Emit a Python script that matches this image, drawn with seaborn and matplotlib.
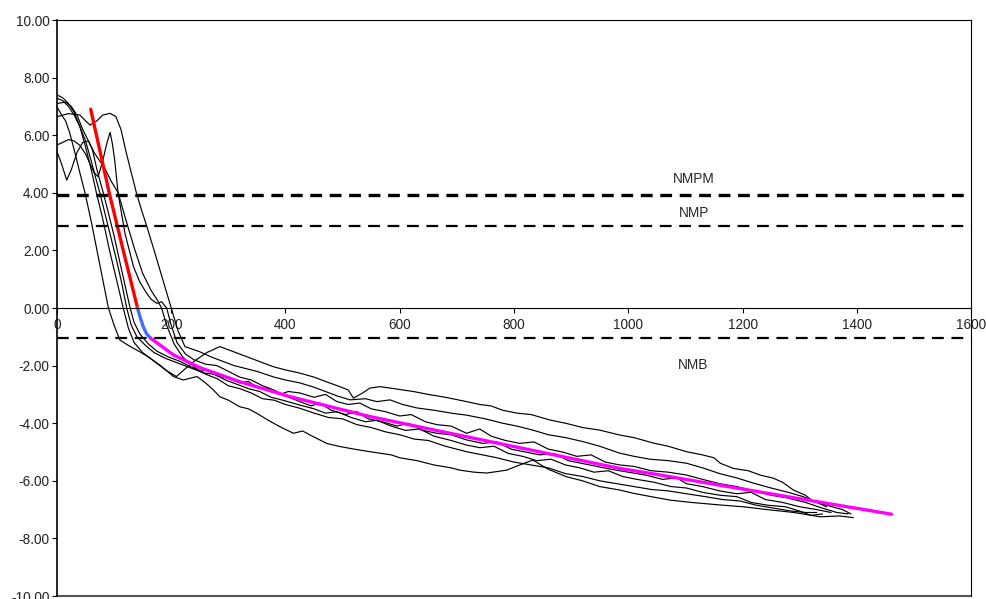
import numpy as np
import pandas as pd
import matplotlib
matplotlib.use("Agg")
import matplotlib.pyplot as plt
import seaborn as sns

# ---- measured profiles (distance, value) ----
run_a_x = [0, 8, 15, 22, 30, 40, 49, 60, 70, 80, 90, 100, 110, 125, 145, 160, 180, 204, 221, 245, 260, 274, 285, 300, 320, 335, 350, 370, 390, 414, 430, 449, 472, 495, 520, 548, 565, 585, 600, 630, 660, 690, 705, 730, 752, 770, 787, 810, 833, 860, 892, 920, 950, 985, 1008, 1040, 1073, 1110, 1161, 1200, 1248, 1290, 1336, 1370, 1394]
run_a_y = [6.99, 6.7, 6.5, 6.1, 5.5, 4.7, 4.0, 3.0, 2.0, 1.0, 0.0, -0.6, -1.11, -1.3, -1.52, -1.7, -1.98, -2.38, -2.5, -2.38, -2.6, -2.85, -3.08, -3.2, -3.43, -3.5, -3.66, -3.9, -4.12, -4.35, -4.27, -4.47, -4.7, -4.81, -4.9, -4.99, -5.04, -5.1, -5.2, -5.3, -5.45, -5.55, -5.63, -5.7, -5.73, -5.68, -5.63, -5.45, -5.28, -5.6, -5.86, -6.0, -6.2, -6.32, -6.43, -6.55, -6.67, -6.75, -6.84, -6.9, -7.01, -7.1, -7.25, -7.22, -7.28]

run_b_x = [0, 10, 20, 30, 40, 50, 60, 69, 80, 92, 104, 116, 125, 135, 150, 170, 190, 209, 225, 240, 262, 285, 300, 320, 340, 360, 379, 400, 425, 450, 470, 495, 510, 519, 535, 548, 565, 590, 624, 650, 680, 717, 740, 760, 780, 805, 830, 863, 890, 920, 950, 985, 1010, 1044, 1070, 1102, 1130, 1150, 1161, 1184, 1210, 1231, 1254, 1270, 1289, 1310, 1324, 1353, 1375, 1390]
run_b_y = [7.4, 7.3, 7.1, 6.8, 6.3, 5.6, 4.8, 4.0, 3.1, 2.0, 1.0, 0.0, -0.7, -1.2, -1.55, -1.85, -2.15, -2.38, -2.1, -1.85, -1.55, -1.34, -1.45, -1.6, -1.75, -1.9, -2.04, -2.15, -2.26, -2.4, -2.55, -2.73, -2.85, -3.13, -2.95, -2.78, -2.73, -2.8, -2.9, -3.0, -3.1, -3.25, -3.35, -3.4, -3.55, -3.65, -3.7, -3.89, -4.0, -4.15, -4.24, -4.41, -4.5, -4.69, -4.8, -4.99, -5.1, -5.2, -5.39, -5.57, -5.65, -5.8, -5.91, -6.05, -6.32, -6.5, -6.72, -6.88, -7.0, -7.15]

run_c_x = [0, 10, 20, 30, 40, 50, 60, 68, 75, 85, 95, 105, 114, 122, 130, 140, 155, 170, 190, 210, 230, 250, 265, 280, 300, 320, 335, 350, 370, 390, 405, 425, 450, 470, 490, 510, 530, 550, 575, 600, 620, 645, 665, 690, 717, 740, 760, 785, 810, 835, 860, 885, 910, 935, 960, 985, 1010, 1040, 1070, 1102, 1130, 1160, 1190, 1220, 1250, 1280, 1310, 1340, 1365, 1385]
run_c_y = [7.28, 7.2, 7.0, 6.7, 6.3, 5.8, 5.1, 4.5, 4.0, 3.2, 2.4, 1.6, 0.8, 0.0, -0.6, -1.0, -1.3, -1.55, -1.75, -1.9, -2.05, -2.2, -2.15, -2.35, -2.45, -2.6, -2.55, -2.75, -2.8, -3.0, -2.9, -2.95, -3.1, -3.0, -3.25, -3.35, -3.3, -3.5, -3.6, -3.75, -3.7, -3.95, -4.05, -4.1, -4.35, -4.2, -4.45, -4.6, -4.7, -4.65, -4.9, -5.0, -5.15, -5.1, -5.35, -5.45, -5.5, -5.65, -5.7, -5.8, -5.95, -6.1, -6.2, -6.35, -6.5, -6.6, -6.75, -6.95, -7.1, -7.15]

run_d_x = [0, 8, 17, 25, 35, 45, 55, 62, 70, 81, 90, 100, 110, 119, 128, 135, 145, 160, 175, 195, 215, 235, 255, 275, 295, 315, 335, 355, 375, 395, 425, 450, 470, 490, 515, 540, 560, 585, 610, 635, 660, 690, 717, 740, 765, 790, 815, 840, 865, 890, 915, 940, 965, 990, 1015, 1045, 1075, 1102, 1130, 1160, 1190, 1215, 1245, 1275, 1300, 1320, 1340]
run_d_y = [5.43, 5.0, 4.44, 4.8, 5.4, 5.75, 5.8, 5.5, 4.8, 4.0, 3.3, 2.5, 1.6, 0.8, 0.0, -0.5, -0.9, -1.25, -1.5, -1.7, -1.85, -2.05, -2.25, -2.3, -2.5, -2.65, -2.8, -2.9, -3.1, -3.2, -3.37, -3.5, -3.65, -3.6, -3.8, -3.95, -3.9, -4.1, -4.25, -4.2, -4.45, -4.6, -4.76, -4.85, -4.8, -5.05, -5.15, -5.3, -5.25, -5.45, -5.55, -5.7, -5.65, -5.85, -5.95, -6.05, -6.2, -6.25, -6.4, -6.5, -6.55, -6.75, -6.85, -6.9, -7.05, -7.2, -7.15]

run_e_x = [0, 10, 20, 30, 40, 50, 58, 65, 72, 80, 87, 93, 97, 101, 107, 119, 134, 145, 157, 165, 175, 183, 192, 200, 210, 225, 240, 260, 280, 300, 320, 340, 360, 380, 400, 425, 445, 460, 480, 505, 525, 545, 570, 595, 615, 640, 665, 690, 717, 745, 770, 795, 820, 845, 870, 895, 920, 945, 970, 1000, 1030, 1060, 1085, 1102, 1130, 1160, 1190, 1215, 1240, 1270, 1300, 1330, 1355]
run_e_y = [5.66, 5.75, 5.85, 5.8, 5.65, 5.35, 5.0, 4.7, 4.56, 5.1, 5.7, 6.1, 5.7, 5.14, 3.98, 2.59, 1.43, 0.9, 0.51, 0.3, 0.16, 0.22, 0.0, -0.6, -1.2, -1.6, -1.8, -1.95, -2.0, -2.2, -2.4, -2.5, -2.7, -2.85, -3.05, -3.25, -3.4, -3.3, -3.55, -3.7, -3.6, -3.85, -3.95, -4.1, -4.0, -4.25, -4.35, -4.4, -4.58, -4.7, -4.65, -4.9, -5.0, -5.1, -5.05, -5.3, -5.4, -5.5, -5.6, -5.7, -5.8, -5.95, -5.9, -6.1, -6.2, -6.35, -6.45, -6.4, -6.65, -6.75, -6.9, -7.0, -7.1]

run_f_x = [0, 15, 25, 35, 45, 55, 65, 75, 85, 95, 107, 120, 135, 150, 165, 175, 183, 192, 205, 220, 240, 260, 280, 300, 320, 340, 360, 380, 400, 425, 450, 475, 500, 525, 550, 575, 600, 625, 650, 680, 717, 745, 770, 800, 830, 860, 890, 920, 950, 980, 1010, 1040, 1070, 1102, 1135, 1165, 1195, 1225, 1255, 1285, 1310, 1330]
run_f_y = [7.1, 7.15, 7.0, 6.7, 6.2, 5.8, 5.4, 5.1, 4.8, 4.4, 4.0, 3.1, 2.1, 1.2, 0.6, 0.3, 0.0, -0.6, -1.25, -1.7, -2.05, -2.3, -2.45, -2.7, -2.8, -2.95, -3.15, -3.2, -3.35, -3.48, -3.65, -3.8, -3.85, -4.05, -4.15, -4.3, -4.4, -4.55, -4.6, -4.8, -4.99, -5.1, -5.2, -5.35, -5.45, -5.55, -5.75, -5.85, -6.0, -6.1, -6.2, -6.3, -6.35, -6.45, -6.55, -6.65, -6.7, -6.85, -6.95, -7.05, -7.1, -7.1]

run_g_x = [0, 20, 40, 50, 58, 70, 80, 93, 103, 112, 120, 130, 139, 148, 157, 170, 185, 200, 212, 224, 250, 270, 290, 310, 330, 350, 380, 400, 425, 450, 470, 490, 513, 540, 560, 583, 605, 630, 660, 690, 717, 750, 780, 805, 833, 860, 890, 921, 950, 985, 1010, 1038, 1070, 1102, 1130, 1160, 1190, 1219, 1250, 1280, 1306, 1330, 1347]
run_g_y = [6.64, 6.75, 6.7, 6.5, 6.35, 6.5, 6.7, 6.76, 6.65, 6.2, 5.5, 4.7, 4.0, 3.4, 2.85, 2.0, 1.0, 0.0, -0.8, -1.34, -1.52, -1.7, -1.85, -2.0, -2.1, -2.2, -2.4, -2.5, -2.6, -2.75, -2.9, -3.05, -3.19, -3.15, -3.25, -3.19, -3.35, -3.47, -3.55, -3.65, -3.72, -3.85, -4.0, -4.1, -4.24, -4.4, -4.5, -4.64, -4.8, -5.04, -5.15, -5.25, -5.3, -5.39, -5.55, -5.75, -5.9, -6.08, -6.25, -6.4, -6.55, -6.75, -6.9]

# ---- fitted segments ----
red_x = [59, 92, 116, 141]
red_y = [6.9, 3.95, 2.0, 0.0]
blue_x = [141, 146, 151, 157, 164]
blue_y = [0.0, -0.35, -0.65, -0.9, -1.05]
magenta_x = [164, 204, 250, 320, 408, 548, 717, 985, 1038, 1219, 1365, 1461]
magenta_y = [-1.05, -1.63, -2.07, -2.56, -3.08, -3.77, -4.47, -5.57, -5.74, -6.35, -6.84, -7.16]

# ---- reference levels ----
level_names = ["NMPM", "NMP", "NMB"]
level_values = [3.93, 2.85, -1.04]

x_ticks = [0, 200, 400, 600, 800, 1000, 1200, 1400, 1600]
y_ticks = [10, 8, 6, 4, 2, 0, -2, -4, -6, -8, -10]

runs = {
    "a": (run_a_x, run_a_y), "b": (run_b_x, run_b_y), "c": (run_c_x, run_c_y),
    "d": (run_d_x, run_d_y), "e": (run_e_x, run_e_y), "f": (run_f_x, run_f_y),
    "g": (run_g_x, run_g_y),
}
runs_df = pd.concat(
    [pd.DataFrame({"x": xs, "y": ys, "run": k}) for k, (xs, ys) in runs.items()],
    ignore_index=True,
)

sns.set_style("white")
plt.rcParams["font.family"] = ["Liberation Sans", "DejaVu Sans"]
plt.rcParams["lines.scale_dashes"] = False

fig = plt.figure(figsize=(9.86, 5.99), dpi=100)
ax = fig.add_axes([0.0578, 0.005, 0.927, 0.9616])

sns.lineplot(data=runs_df, x="x", y="y", units="run", estimator=None, sort=False,
             color="black", lw=0.85, ax=ax, legend=False)
sns.lineplot(x=red_x, y=red_y, sort=False, color="#ff0000", lw=2.4, ax=ax)
sns.lineplot(x=blue_x, y=blue_y, sort=False, color="#3f6fff", lw=2.4, ax=ax)
sns.lineplot(x=magenta_x, y=magenta_y, sort=False, color="#ff00ff", lw=2.4, ax=ax)

level_widths = [2.4, 1.6, 1.6]
for name, val, lw in zip(level_names, level_values, level_widths):
    ax.axhline(val, color="black", lw=lw, dashes=(8.5, 5.5))

fs = 9.8
ax.text(1115, 4.49, "NMPM", ha="center", va="center", fontsize=fs)
ax.text(1116, 3.29, "NMP", ha="center", va="center", fontsize=fs)
ax.text(1113, -1.98, "NMB", ha="center", va="center", fontsize=fs)

ax.set_xlim(0, 1600)
ax.set_ylim(-10, 10)
ax.set_xticks(x_ticks)
ax.set_xticklabels([str(t) for t in x_ticks])
ax.set_yticks(y_ticks)
ax.set_yticklabels([f"{t:.2f}" for t in y_ticks])
ax.set_xlabel("")
ax.set_ylabel("")

# x axis runs through zero; outer frame kept around the plot
ax.spines["bottom"].set_position(("data", 0))
for s in ["bottom", "left", "top", "right"]:
    ax.spines[s].set_color("black")
ax.spines["bottom"].set_linewidth(0.8)
ax.spines["left"].set_linewidth(1.2)
ax.spines["top"].set_linewidth(0.8)
ax.spines["right"].set_linewidth(0.8)
ax.axhline(-10, color="#555555", lw=1.5, clip_on=False)

ax.tick_params(axis="x", direction="out", length=3.5, width=0.8, pad=4,
               labelsize=fs, colors="black", bottom=True)
ax.tick_params(axis="y", direction="out", length=3.5, width=0.8, pad=2,
               labelsize=fs, colors="black", left=True)
for lab in ax.get_xticklabels() + ax.get_yticklabels():
    lab.set_color("#222222")

fig.savefig("out.png", dpi=100)
